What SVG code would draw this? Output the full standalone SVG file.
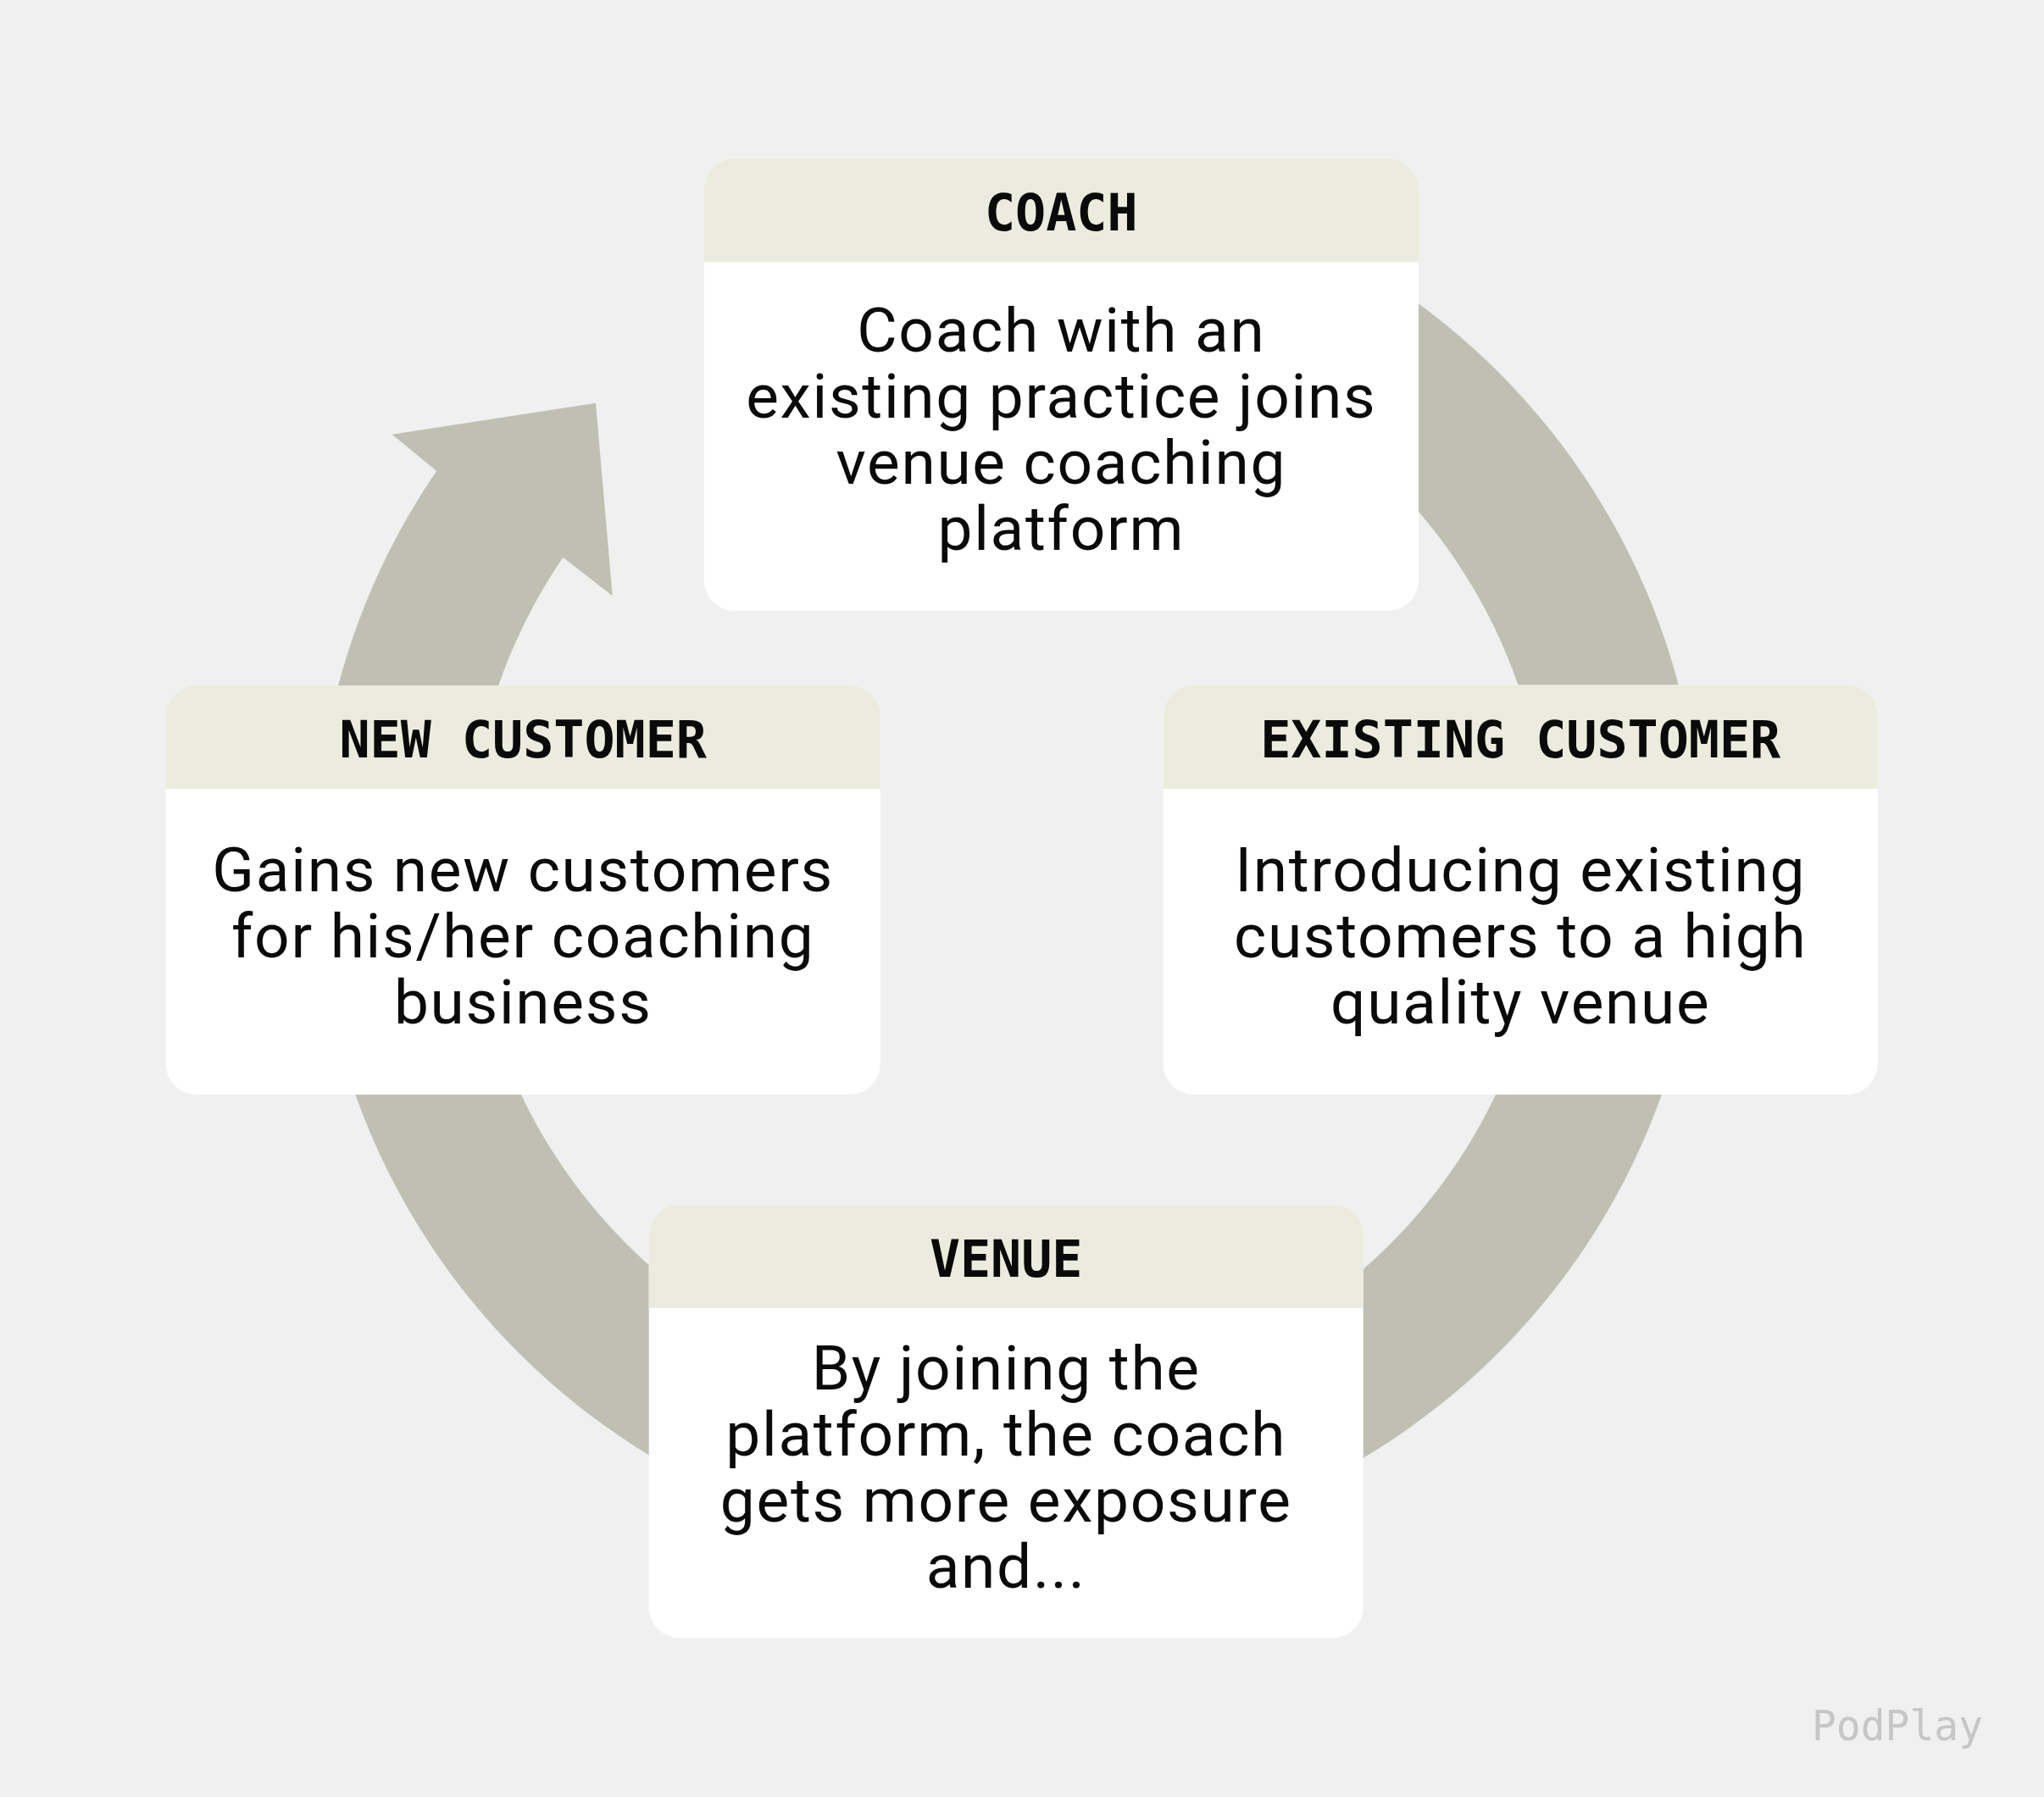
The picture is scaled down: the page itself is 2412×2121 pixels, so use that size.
<svg xmlns="http://www.w3.org/2000/svg" width="2412" height="2121" viewBox="0 0 2412 2121">
<style>
.hdr{fill:#ebecdd}
.body{fill:#ffffff}
.ht{font-family:"DejaVu Sans Mono","Liberation Mono",monospace;font-weight:bold;font-size:60px;fill:#0a0a0a;text-anchor:middle}
.bt{font-family:Roboto,"Noto Sans","Liberation Sans",sans-serif;font-size:73px;letter-spacing:1.7px;fill:#0a0a0a;text-anchor:middle}
.wm{font-family:"DejaVu Sans Mono","Liberation Mono",monospace;font-size:49px;fill:#c6c6c6}
</style>
<rect x="0" y="0" width="2412" height="2121" fill="#f0f0f0"/>
<g id="connectors">
<path id="cycle-arrow" fill="#bfc0b2" d="M1332,212.4 A818,818 0 1 1 515.1,555.9 L462.7,512.7 L703,475.7 L722.7,703.3 L664.4,658.1 A637,637 0 1 0 1300.6,390.7 Z"/>
</g>
<g id="coach">
<rect class="body" x="830.7" y="187" width="843.3" height="533.7" rx="36"/>
<path class="hdr" d="M830.7,309.3 V223 A36,36 0 0 1 866.7,187 H1638 A36,36 0 0 1 1674,223 V309.3 Z"/>
<text class="ht" x="1252.3" y="271.7">COACH</text>
<text class="bt" x="1252.3" y="415">Coach with an</text>
<text class="bt" x="1252.3" y="493">existing practice joins</text>
<text class="bt" x="1252.3" y="571">venue coaching</text>
<text class="bt" x="1252.3" y="649">platform</text>
</g>
<g id="new-customer">
<rect class="body" x="195.7" y="809" width="843" height="483" rx="36"/>
<path class="hdr" d="M195.7,931 V845 A36,36 0 0 1 231.7,809 H1002.7 A36,36 0 0 1 1038.7,845 V931 Z"/>
<text class="ht" x="617.2" y="893.7">NEW CUSTOMER</text>
<text class="bt" x="617.2" y="1051.5">Gains new customers</text>
<text class="bt" x="617.2" y="1129.5">for his/her coaching</text>
<text class="bt" x="617.2" y="1207.5">business</text>
</g>
<g id="existing-customer">
<rect class="body" x="1372.7" y="808.5" width="843" height="483.5" rx="36"/>
<path class="hdr" d="M1372.7,931 V844.5 A36,36 0 0 1 1408.7,808.5 H2179.7 A36,36 0 0 1 2215.7,844.5 V931 Z"/>
<text class="ht" x="1794.2" y="893.7">EXISTING CUSTOMER</text>
<text class="bt" x="1794.2" y="1051.5">Introducing existing</text>
<text class="bt" x="1794.2" y="1129.5">customers to a high</text>
<text class="bt" x="1794.2" y="1207.5">quality venue</text>
</g>
<g id="venue">
<rect class="body" x="765.7" y="1421.7" width="843" height="511.6" rx="36"/>
<path class="hdr" d="M765.7,1544 V1457.7 A36,36 0 0 1 801.7,1421.7 H1572.7 A36,36 0 0 1 1608.7,1457.7 V1544 Z"/>
<text class="ht" x="1187.2" y="1506.6">VENUE</text>
<text class="bt" x="1187.2" y="1640">By joining the</text>
<text class="bt" x="1187.2" y="1718">platform, the coach</text>
<text class="bt" x="1187.2" y="1796">gets more exposure</text>
<text class="bt" x="1187.2" y="1874">and...</text>
</g>
<text class="wm" x="2138" y="2054" textLength="202" lengthAdjust="spacingAndGlyphs">PodPlay</text>
</svg>
